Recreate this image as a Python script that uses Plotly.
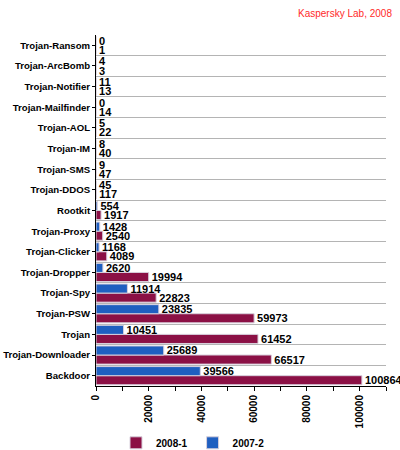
import plotly.graph_objects as go

# categories from bottom to top
categories = ['Backdoor', 'Trojan-Downloader', 'Trojan', 'Trojan-PSW', 'Trojan-Spy',
              'Trojan-Dropper', 'Trojan-Clicker', 'Trojan-Proxy', 'Rootkit', 'Trojan-DDOS',
              'Trojan-SMS', 'Trojan-IM', 'Trojan-AOL', 'Trojan-Mailfinder', 'Trojan-Notifier',
              'Trojan-ArcBomb', 'Trojan-Ransom']
values_2008_1 = [100864, 66517, 61452, 59973, 22823, 19994, 4089, 2540, 1917, 117,
                 47, 40, 22, 14, 13, 3, 1]
values_2007_2 = [39566, 25689, 10451, 23835, 11914, 2620, 1168, 1428, 554, 45,
                 9, 8, 5, 0, 11, 4, 0]

maroon = '#8B1045'
blue = '#1F5FC0'
pos = list(range(len(categories)))
label_font = dict(family='Liberation Sans, Arial, sans-serif', size=11, color='black',
                  weight='bold')

fig = go.Figure()
fig.add_trace(go.Bar(
    y=pos, x=values_2008_1, orientation='h', name='2008-1',
    marker=dict(color=maroon, line=dict(color='#d8d0dc', width=1)),
    text=[str(v) for v in values_2008_1], textposition='outside',
    textfont=label_font, constraintext='none', cliponaxis=False,
))
fig.add_trace(go.Bar(
    y=pos, x=values_2007_2, orientation='h', name='2007-2',
    marker=dict(color=blue, line=dict(color='#d8d0dc', width=1)),
    text=[str(v) for v in values_2007_2], textposition='outside',
    textfont=label_font, constraintext='none', cliponaxis=False,
))

fig.update_layout(
    width=400, height=450,
    margin=dict(l=96, r=14, t=35, b=64, autoexpand=False),
    paper_bgcolor='white', plot_bgcolor='white',
    barmode='group', bargap=0.12, bargroupgap=0,
    font=dict(family='Liberation Sans, Arial, sans-serif', size=10, color='black'),
    showlegend=True,
    legend=dict(orientation='h', xref='container', yref='container',
                x=0.29, y=0.016, xanchor='left', yanchor='middle',
                font=dict(size=10, weight='bold'), traceorder='normal', itemwidth=30),
    annotations=[dict(text='Kaspersky Lab, 2008', xref='paper', yref='paper',
                      x=1.028, y=1.06, xanchor='right', yanchor='middle',
                      showarrow=False, font=dict(size=10, color='#ff2a2a'))],
)

fig.update_xaxes(
    range=[0, 110000], dtick=20000, tickangle=-90, tickformat='d',
    ticks='outside', ticklen=4, tickcolor='black', automargin=False,
    minor=dict(dtick=10000, ticks='outside', ticklen=4, tickcolor='black'),
    showgrid=False, zeroline=False, showline=True, linecolor='black', linewidth=1,
    tickfont=dict(size=10, weight='bold'),
)
fig.update_yaxes(
    range=[-0.5, len(categories) - 0.5],
    tickvals=pos, ticktext=categories, automargin=False,
    ticks='outside', ticklen=3, tickcolor='black',
    showgrid=False, zeroline=False, showline=True, linecolor='black', linewidth=1,
    minor=dict(tickvals=[p + 0.5 for p in pos], showgrid=True, gridcolor='#b4b4b4',
               gridwidth=1, ticks=''),
    tickfont=dict(size=9.6, weight='bold'),
)

fig.write_html('out.html', config={'displayModeBar': False},
               post_script="document.body.style.margin='0';")
